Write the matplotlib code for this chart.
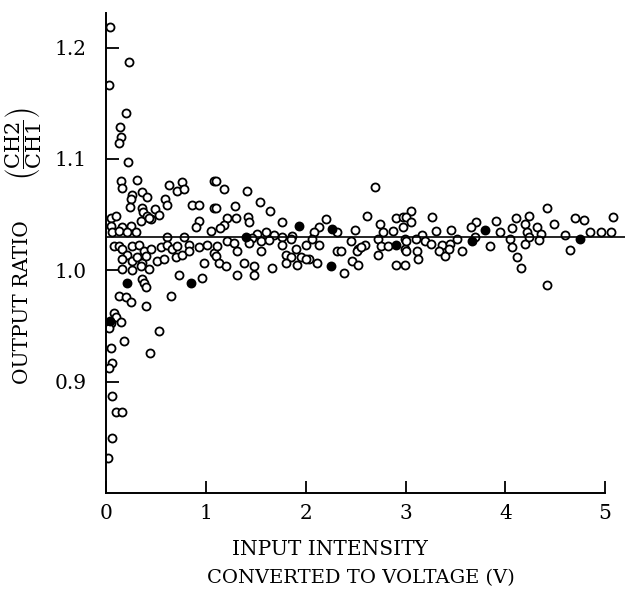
import matplotlib
matplotlib.use("Agg")
import matplotlib.pyplot as plt

# ratio CH2/CH1 vs input intensity (V)
x_open = [
    0.04, 0.23, 0.03, 0.20, 0.14, 0.15, 0.13, 0.22, 0.15, 0.16, 0.31, 0.26, 0.36, 0.41, 0.25, 0.24,
    0.36, 0.37, 0.41, 0.45, 0.49, 0.53, 0.63, 0.76, 0.71, 0.78, 1.08, 0.59, 0.61, 0.86, 0.93, 1.08,
    0.93, 0.90, 1.05, 0.61, 0.78, 0.05, 0.10, 0.05, 0.06, 0.16, 0.25, 0.35, 0.43, 0.13, 0.21, 0.30,
    0.08, 0.13, 0.16, 0.26, 0.33, 0.38, 0.45, 0.55, 0.61, 0.66, 0.71, 0.83, 0.93, 1.01, 1.08, 0.21,
    0.16, 0.26, 0.31, 0.36, 0.40, 0.51, 0.58, 0.70, 0.76, 0.83, 0.98, 0.16, 0.26, 0.35, 0.43, 0.73,
    0.96, 0.36, 0.38, 0.40, 0.13, 0.20, 0.25, 0.40, 0.65, 0.08, 0.10, 0.05, 0.15, 0.03, 0.53, 0.18,
    0.44, 0.05, 0.06, 0.03, 0.06, 0.10, 0.16, 0.06, 0.02,
    1.10, 1.18, 1.41, 1.10, 1.29, 1.54, 1.64, 1.42, 1.43, 1.21, 1.30, 1.18, 1.14, 1.68, 1.51, 1.60,
    1.46, 1.21, 1.28, 1.43, 1.55, 1.63, 1.11, 1.31, 1.55, 1.10, 1.13, 1.20, 1.38, 1.48, 1.66, 1.31,
    1.48,
    1.76, 2.20, 2.13, 2.08, 2.31, 2.49, 2.61, 2.69, 2.74, 2.90, 2.97, 2.97, 2.87, 2.77, 1.76, 1.86,
    1.76, 1.85, 1.90, 2.00, 2.06, 2.13, 2.45, 2.52, 2.59, 2.72, 2.75, 2.82, 2.99, 1.80, 1.85, 1.95,
    2.03, 2.31, 2.35, 2.51, 2.55, 2.72, 2.99, 1.80, 1.91, 2.00, 2.11, 2.38, 2.46, 2.52, 2.90, 2.99,
    3.05, 3.00, 3.05, 3.27, 4.42, 4.24, 4.11, 3.91, 3.71, 3.66, 4.20, 4.49, 4.70, 4.79, 5.08, 3.31,
    3.46, 4.07, 4.32, 3.17, 3.95, 4.22, 4.36, 4.60, 4.85, 4.96, 5.06, 3.00, 3.10, 3.20, 3.26, 3.37,
    3.45, 3.52, 4.05, 4.20, 4.24, 4.34, 3.00, 3.11, 3.34, 3.57, 3.85, 4.07, 4.65, 3.12, 3.40, 4.12,
    4.16, 4.42, 3.44, 3.70,
]
y_open = [
    1.218, 1.187, 1.166, 1.141, 1.129, 1.120, 1.114, 1.097, 1.080, 1.074, 1.081, 1.068, 1.070, 1.066, 1.064, 1.057,
    1.056, 1.052, 1.049, 1.046, 1.055, 1.050, 1.077, 1.079, 1.071, 1.073, 1.080, 1.064, 1.059, 1.059, 1.059, 1.056,
    1.044, 1.039, 1.035, 1.030, 1.030, 1.047, 1.049, 1.040, 1.034, 1.039, 1.040, 1.044, 1.047, 1.035, 1.034, 1.034,
    1.022, 1.022, 1.019, 1.022, 1.023, 1.017, 1.019, 1.021, 1.023, 1.019, 1.022, 1.023, 1.021, 1.023, 1.016, 1.014,
    1.010, 1.008, 1.012, 1.007, 1.013, 1.008, 1.010, 1.012, 1.014, 1.017, 1.007, 1.001, 1.000, 1.004, 1.001, 0.996,
    0.993, 0.992, 0.989, 0.985, 0.977, 0.976, 0.972, 0.968, 0.977, 0.962, 0.958, 0.953, 0.954, 0.948, 0.946, 0.937,
    0.926, 0.930, 0.917, 0.912, 0.887, 0.873, 0.873, 0.850, 0.832,
    1.080, 1.073, 1.071, 1.056, 1.058, 1.061, 1.053, 1.048, 1.043, 1.047, 1.047, 1.041, 1.038, 1.032, 1.033, 1.034,
    1.029, 1.026, 1.025, 1.025, 1.026, 1.027, 1.022, 1.017, 1.017, 1.013, 1.007, 1.004, 1.007, 1.004, 1.002, 0.996,
    0.996,
    1.043, 1.046, 1.039, 1.034, 1.034, 1.036, 1.049, 1.075, 1.042, 1.047, 1.048, 1.039, 1.035, 1.034, 1.030, 1.031,
    1.023, 1.028, 1.019, 1.023, 1.028, 1.023, 1.026, 1.019, 1.023, 1.028, 1.022, 1.022, 1.028, 1.014, 1.012, 1.012,
    1.010, 1.017, 1.017, 1.017, 1.021, 1.014, 1.019, 1.007, 1.005, 1.010, 1.007, 0.998, 1.008, 1.005, 1.005, 1.005,
    1.053, 1.048, 1.043, 1.048, 1.056, 1.049, 1.047, 1.044, 1.043, 1.039, 1.042, 1.042, 1.047, 1.045, 1.048, 1.035,
    1.036, 1.038, 1.039, 1.032, 1.034, 1.034, 1.033, 1.032, 1.034, 1.034, 1.034, 1.026, 1.028, 1.026, 1.024, 1.023,
    1.024, 1.028, 1.028, 1.024, 1.030, 1.027, 1.017, 1.017, 1.017, 1.017, 1.022, 1.021, 1.018, 1.010, 1.013, 1.012,
    1.002, 0.987, 1.019, 1.030,
]
# overlapping points that print as solid blobs
x_solid = [0.21, 0.85, 0.04, 1.40, 1.93, 2.26, 2.25, 2.90, 3.80, 3.67, 4.75]
y_solid = [0.989, 0.989, 0.955, 1.030, 1.040, 1.037, 1.004, 1.023, 1.036, 1.026, 1.028]

mean_ratio = 1.03
x_ticks = [0, 1, 2, 3, 4, 5]
y_ticks = [0.9, 1.0, 1.1, 1.2]
y_ticklabels = ["0.9", "1.0", "1.1", "1.2"]

plt.rcParams['font.family'] = ['DejaVu Serif']
plt.rcParams['mathtext.fontset'] = 'dejavuserif'

fig = plt.figure(figsize=(6.25, 5.9), dpi=100)
ax = fig.add_axes([0.170, 0.164, 0.830, 0.814])

ax.plot(x_open, y_open, 'o', ms=5.8, mfc='white', mec='black', mew=1.3, ls='none')
ax.plot(x_solid, y_solid, 'o', ms=5.8, mfc='black', mec='black', mew=1.3, ls='none')
ax.plot([0, 5.2], [mean_ratio, mean_ratio], color='black', lw=1.2)

ax.set_xlim(0, 5.2)
ax.set_ylim(0.80, 1.231)
ax.spines['top'].set_visible(False)
ax.spines['right'].set_visible(False)
ax.spines['bottom'].set_bounds(0, 5)
ax.spines['left'].set_linewidth(1.4)
ax.spines['bottom'].set_linewidth(1.4)

ax.set_xticks(x_ticks)
ax.set_yticks(y_ticks)
ax.set_yticklabels(y_ticklabels)
ax.tick_params(direction='in', length=9, width=1.3, labelsize=14.5)
ax.tick_params(axis='y', pad=14)
ax.tick_params(axis='x', pad=8)

fig.text(0.528, 0.068, "INPUT INTENSITY", ha='center', va='center', fontsize=14.5)
fig.text(0.578, 0.020, "CONVERTED TO VOLTAGE (V)", ha='center', va='center', fontsize=14)
fig.text(0.036, 0.488, "OUTPUT RATIO", rotation=90, ha='center', va='center', fontsize=14.5)
fig.text(0.038, 0.757, r"$\left(\dfrac{\mathrm{CH2}}{\mathrm{CH1}}\right)$",
         rotation=90, ha='center', va='center', fontsize=15)

fig.savefig("out.png", dpi=100)
